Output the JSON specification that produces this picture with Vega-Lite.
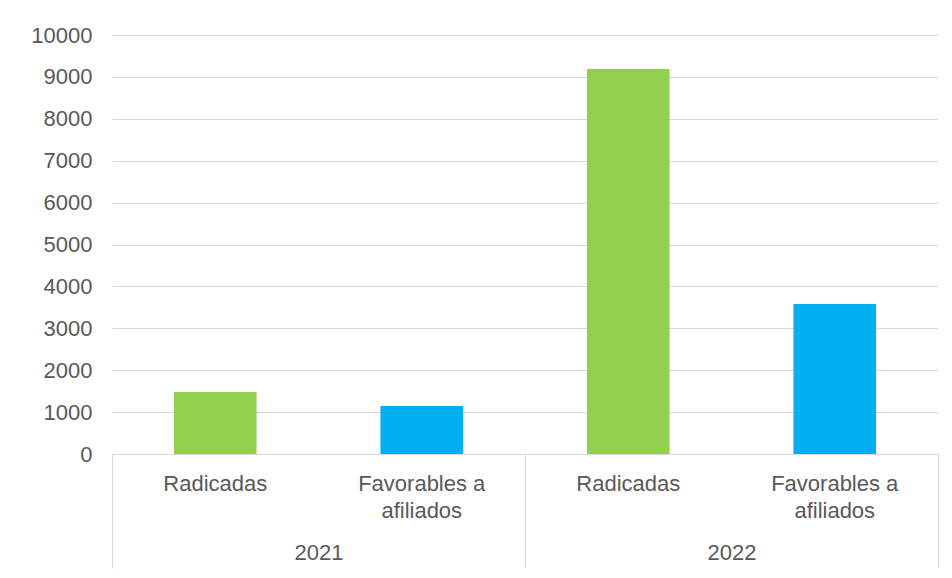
{
  "$schema": "https://vega.github.io/schema/vega-lite/v6.json",
  "autosize": "none",
  "width": 826,
  "height": 419,
  "padding": {"left": 112, "top": 35, "right": 14, "bottom": 124},
  "background": "white",
  "config": {
    "view": {"stroke": null},
    "font": "Liberation Sans",
    "axis": {"labelFont": "Liberation Sans", "labelColor": "#595959", "labelFontSize": 22}
  },
  "data": {
    "values": [
      {"year": "2021", "key": "2021|Radicadas", "value": 1480},
      {"year": "2021", "key": "2021|Favorables a|afiliados", "value": 1145},
      {"year": "2022", "key": "2022|Radicadas", "value": 9190},
      {"year": "2022", "key": "2022|Favorables a|afiliados", "value": 3580}
    ]
  },
  "layer": [
    {
      "mark": {"type": "bar"},
      "encoding": {
        "x": {
          "field": "key", "type": "nominal", "sort": null,
          "scale": {"paddingInner": 0.6, "paddingOuter": 0.3},
          "axis": {
            "title": null, "orient": "bottom", "ticks": false,
            "domainColor": "#d9d9d9", "domainWidth": 1,
            "labelAngle": 0, "labelBaseline": "alphabetic", "labelPadding": 36,
            "labelLineHeight": 27,
            "labelExpr": "slice(split(datum.value, '|'), 1)"
          }
        },
        "y": {
          "field": "value", "type": "quantitative",
          "scale": {"domain": [0, 10000], "nice": false},
          "axis": {
            "title": null, "domain": false, "ticks": false,
            "values": [0, 1000, 2000, 3000, 4000, 5000, 6000, 7000, 8000, 9000, 10000],
            "format": "d", "labelPadding": 20, "labelBaseline": "middle",
            "gridColor": "#d9d9d9", "gridWidth": 1
          }
        },
        "color": {
          "field": "key", "type": "nominal", "legend": null,
          "scale": {
            "domain": ["2021|Radicadas", "2021|Favorables a|afiliados", "2022|Radicadas", "2022|Favorables a|afiliados"],
            "range": ["#92D050", "#00B0F0", "#92D050", "#00B0F0"]
          }
        }
      }
    },
    {
      "mark": {"type": "bar", "opacity": 0},
      "encoding": {
        "x": {
          "field": "year", "type": "nominal",
          "scale": {"paddingInner": 0, "paddingOuter": 0},
          "axis": {
            "title": null, "orient": "bottom", "domain": false,
            "tickBand": "extent", "tickSize": 114, "tickColor": "#d9d9d9", "tickWidth": 1,
            "labelAngle": 0, "labelBaseline": "alphabetic", "labelPadding": -9
          }
        },
        "y": {"field": "value", "type": "quantitative"}
      }
    }
  ],
  "resolve": {"scale": {"x": "independent"}, "axis": {"x": "independent"}}
}
